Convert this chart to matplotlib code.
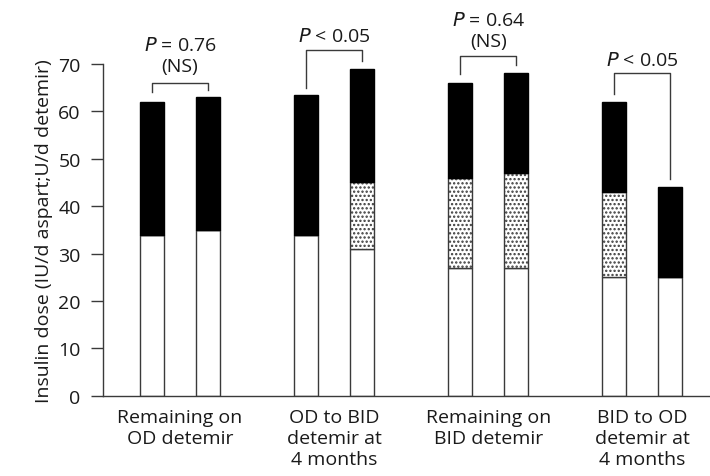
import numpy as np
import matplotlib
matplotlib.use("Agg")
import matplotlib.pyplot as plt

plt.rcParams['font.family'] = ['Open Sans', 'DejaVu Sans']
plt.rcParams['hatch.color'] = "#2a2a2a"
plt.rcParams['hatch.linewidth'] = 1.1

# 数据
groups = ["Remaining on\nOD detemir", "OD to BID\ndetemir at\n4 months",
          "Remaining on\nBID detemir", "BID to OD\ndetemir at\n4 months"]
# 每组两根柱：基线 / 4个月
white_part = [34, 35, 34, 31, 27, 27, 25, 25]      # 底部（白）
dotted_top = [34, 35, 34, 45, 46, 47, 43, 25]      # 点状部分顶端
bar_total = [62, 63, 63.5, 69, 66, 68, 62, 44]     # 柱总高
p_text = ["$P$ = 0.76\n(NS)", "$P$ < 0.05", "$P$ = 0.64\n(NS)", "$P$ < 0.05"]
bracket_top = [66, 73, 71.7, 68]
bracket_legs = [(64, 64.5), (65, 70.6), (67.8, 69.8), (63.7, 45.7)]
text_y = [71.8, 75.9, 77.1, 70.9]

line_col = "#3a3a3a"
txt_col = "#1a1a1a"
off = 0.182
width = 0.158
fs = 14

fig = plt.figure(figsize=(7.1, 4.77), dpi=100)
ax = fig.add_axes([0.145, 0.168, 0.855, 0.696])

xs = []
for g in range(len(groups)):
    xs += [g - off, g + off]
xs = np.array(xs)
white = np.array(white_part)
dot = np.array(dotted_top) - white
black = np.array(bar_total) - np.array(dotted_top)

ax.bar(xs, white, width, color="white", edgecolor=line_col, linewidth=1)
ax.bar(xs, dot, width, bottom=white, color="white", edgecolor=line_col,
       hatch="....", linewidth=1)
ax.bar(xs, black, width, bottom=np.array(dotted_top), color="black",
       edgecolor="black", linewidth=1)

# 显著性括号
for g in range(len(groups)):
    x1, x2 = xs[2 * g], xs[2 * g + 1]
    l1, l2 = bracket_legs[g]
    ax.plot([x1, x1, x2, x2], [l1, bracket_top[g], bracket_top[g], l2],
            color=line_col, linewidth=1, clip_on=False)
    ax.text(g, text_y[g], p_text[g], ha="center", va="center", color=txt_col,
            fontsize=fs, linespacing=1.2, clip_on=False)

ax.set_xlim(-0.5, 3.44)
ax.set_ylim(0, 70)
ax.set_yticks(range(0, 71, 10))
ax.set_xticks(range(len(groups)))
ax.set_xticklabels(groups, fontsize=fs, linespacing=1.2, color=txt_col)
ax.tick_params(axis="x", length=0, pad=9)
ax.tick_params(axis="y", length=9, width=1, color=line_col, labelsize=fs,
               pad=7, labelcolor=txt_col)
ax.set_ylabel("Insulin dose (IU/d aspart;U/d detemir)", fontsize=fs,
              labelpad=4, color=txt_col)

for s in ["top", "right"]:
    ax.spines[s].set_visible(False)
for s in ["left", "bottom"]:
    ax.spines[s].set_color(line_col)
    ax.spines[s].set_linewidth(1)

plt.savefig("out.png", dpi=100)
